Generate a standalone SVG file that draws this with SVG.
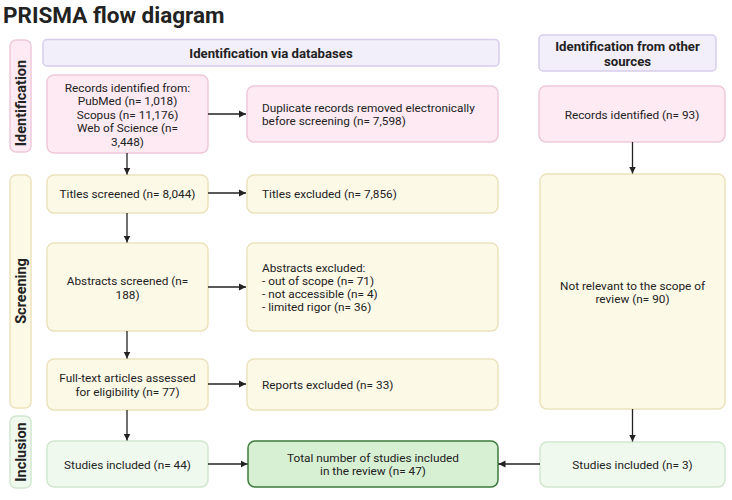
<svg xmlns="http://www.w3.org/2000/svg" width="732" height="500" viewBox="0 0 732 500">
<defs>
<marker id="ah" markerWidth="8" markerHeight="8" refX="7" refY="4" orient="auto" markerUnits="userSpaceOnUse">
<path d="M0,0.5 L7,4 L0,7.5 Z" fill="#222"/>
</marker>
<style>
text{font-family:Roboto,"Liberation Sans",Arial,sans-serif;fill:#222;font-size:11.8px}
.t{font-size:22.5px;font-weight:bold;fill:#222}
.h{font-size:13.2px;font-weight:bold}
.s{font-size:14.5px;font-weight:bold}
.c{text-anchor:middle}
.pk{fill:#fdeaf2;stroke:#eec9da;stroke-width:1.5}
.yl{fill:#fdf9e7;stroke:#ebe2bd;stroke-width:1.5}
.gn{fill:#eff9ee;stroke:#d2e7cf;stroke-width:1.5}
.gd{fill:#d7f0d3;stroke:#3e7a3c;stroke-width:1.5}
.pu{fill:#f2effb;stroke:#d8cdea;stroke-width:1.5}
.ln{stroke:#222;stroke-width:1.3;fill:none;marker-end:url(#ah)}
</style>
</defs>
<rect width="732" height="500" fill="#fff"/>
<text class="t" x="3" y="23">PRISMA flow diagram</text>

<g id="stage-identification"><rect class="pk" x="10" y="40" width="21" height="112" rx="6"/><text class="s c" transform="translate(26,103) rotate(-90)">Identification</text></g>
<g id="stage-screening"><rect class="yl" x="10" y="175" width="21" height="233" rx="6"/><text class="s c" transform="translate(26,291) rotate(-90)">Screening</text></g>
<g id="stage-inclusion"><rect class="gn" x="10" y="416" width="21" height="72" rx="6"/><text class="s c" transform="translate(26,452) rotate(-90)">Inclusion</text></g>

<g id="header-db"><rect class="pu" x="43" y="39.5" width="456" height="26.5" rx="4"/><text class="h c" x="271" y="57.5">Identification via databases</text></g>
<g id="header-other"><rect class="pu" x="539" y="35" width="177" height="36" rx="4"/><text class="h c" x="627.5" y="50.5">Identification from other</text><text class="h c" x="627.5" y="65.5">sources</text></g>

<g id="records-db"><rect class="pk" x="47" y="75" width="161" height="78" rx="7"/>
<text class="c" x="127.5" y="91.5">Records identified from:</text>
<text class="c" x="127.5" y="105">PubMed (n= 1,018)</text>
<text class="c" x="127.5" y="118.5">Scopus (n= 11,176)</text>
<text class="c" x="127.5" y="132">Web of Science (n=</text>
<text class="c" x="127.5" y="145.5">3,448)</text></g>

<g id="duplicates"><rect class="pk" x="247" y="86" width="251" height="56" rx="7"/>
<text x="262" y="111.5">Duplicate records removed electronically</text>
<text x="262" y="124.5">before screening (n= 7,598)</text></g>

<g id="records-other"><rect class="pk" x="539" y="86" width="186" height="56" rx="7"/><text class="c" x="632" y="118.5">Records identified (n= 93)</text></g>

<g id="titles-screened"><rect class="yl" x="47" y="175" width="161" height="38" rx="7"/><text class="c" x="127.5" y="197.5">Titles screened (n= 8,044)</text></g>
<g id="titles-excluded"><rect class="yl" x="247" y="175" width="251" height="38" rx="7"/><text x="262" y="197.5">Titles excluded  (n= 7,856)</text></g>

<g id="abstracts-screened"><rect class="yl" x="47" y="243" width="161" height="88" rx="7"/>
<text class="c" x="127.5" y="284.5">Abstracts screened (n=</text>
<text class="c" x="127.5" y="298.5">188)</text></g>
<g id="abstracts-excluded"><rect class="yl" x="247" y="243" width="251" height="88" rx="7"/>
<text x="262" y="271.5">Abstracts excluded:</text>
<text x="262" y="284.5">- out of scope (n= 71)</text>
<text x="262" y="297.5">- not accessible (n= 4)</text>
<text x="262" y="310.5">- limited rigor (n= 36)</text></g>

<g id="not-relevant"><rect class="yl" x="540" y="174" width="185" height="235" rx="7"/>
<text class="c" x="632.5" y="290">Not relevant to the scope of</text>
<text class="c" x="632.5" y="303">review (n= 90)</text></g>

<g id="fulltext"><rect class="yl" x="47" y="359" width="161" height="51" rx="7"/>
<text class="c" x="127.5" y="381.5">Full-text articles assessed</text>
<text class="c" x="127.5" y="396">for eligibility (n= 77)</text></g>
<g id="reports-excluded"><rect class="yl" x="247" y="359" width="251" height="51" rx="7"/><text x="262" y="388.5">Reports excluded (n= 33)</text></g>

<g id="studies-db"><rect class="gn" x="47" y="441" width="161" height="46" rx="7"/><text class="c" x="127.5" y="468.5">Studies included (n= 44)</text></g>
<g id="total"><rect class="gd" x="248" y="441" width="250" height="46" rx="7"/>
<text class="c" x="373" y="461.5">Total number of studies included</text>
<text class="c" x="373" y="474.5">in the review (n= 47)</text></g>
<g id="studies-other"><rect class="gn" x="540" y="442" width="185" height="45" rx="7"/><text class="c" x="632.5" y="468.5">Studies included (n= 3)</text></g>

<g id="connectors">
<line class="ln" x1="208" y1="114" x2="246" y2="114"/>
<line class="ln" x1="127" y1="153" x2="127" y2="174.5"/>
<line class="ln" x1="208" y1="193" x2="246" y2="193"/>
<line class="ln" x1="127" y1="213" x2="127" y2="242.5"/>
<line class="ln" x1="208" y1="287" x2="246" y2="287"/>
<line class="ln" x1="127" y1="331" x2="127" y2="358.5"/>
<line class="ln" x1="208" y1="384" x2="246" y2="384"/>
<line class="ln" x1="127" y1="410" x2="127" y2="440.5"/>
<line class="ln" x1="208" y1="464" x2="247.5" y2="464"/>
<line class="ln" x1="540" y1="464" x2="498.5" y2="464"/>
<line class="ln" x1="632.5" y1="142" x2="632.5" y2="173.5"/>
<line class="ln" x1="632.5" y1="409" x2="632.5" y2="441.5"/>
</g>
</svg>
